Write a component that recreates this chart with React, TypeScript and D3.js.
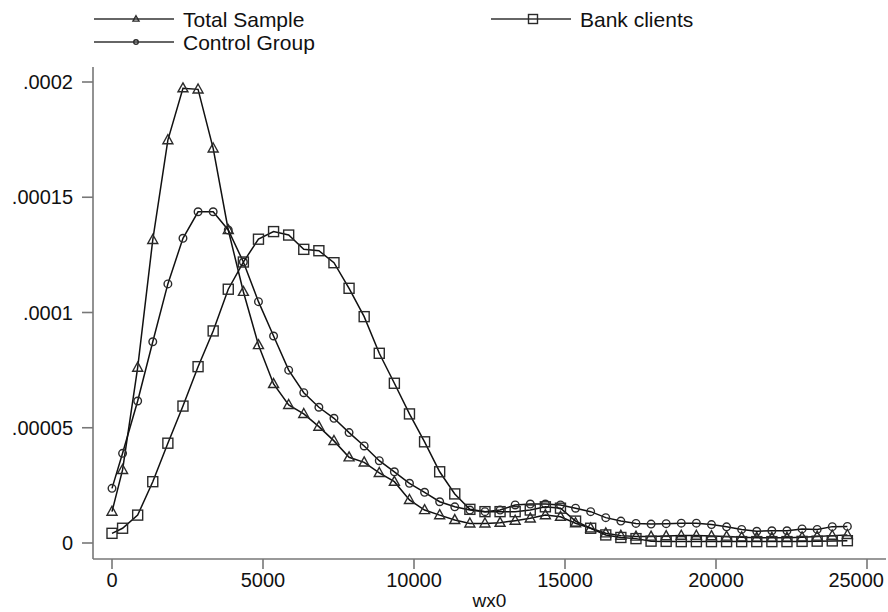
import { useEffect, useRef } from 'react';
import React from 'react';
import * as d3 from 'd3';

// evaluation points of the kernel density (wx0)
const wx0 = [
  0, 350, 850, 1350, 1850, 2350, 2850, 3350, 3850, 4350,
  4850, 5350, 5850, 6350, 6850, 7350, 7850, 8350, 8850, 9350,
  9850, 10350, 10850, 11350, 11850, 12350, 12850, 13350, 13850, 14350,
  14850, 15350, 15850, 16350, 16850, 17350, 17850, 18350, 18850, 19350,
  19850, 20350, 20850, 21350, 21850, 22350, 22850, 23350, 23850, 24350,
];

// densities, in units of 1e-6
const totalSample = [
  13.6, 31.7, 76.1, 131.5, 174.8, 197.3, 196.8, 171.2, 135.8, 109.0,
  85.9, 69.0, 59.9, 56.0, 50.5, 44.3, 37.2, 35.0, 30.4, 26.6,
  18.7, 14.3, 12.1, 10.0, 8.5, 8.5, 8.8, 9.7, 10.7, 12.1,
  11.4, 8.6, 6.4, 4.2, 3.2, 2.8, 2.8, 3.0, 3.2, 3.2,
  3.0, 2.8, 2.5, 2.3, 2.3, 2.3, 2.5, 2.8, 3.2, 3.5,
];
const controlGroup = [
  23.7, 38.9, 61.6, 87.3, 112.4, 132.2, 143.7, 143.7, 135.8, 121.9,
  104.7, 89.8, 75.0, 65.2, 58.9, 54.1, 47.9, 42.1, 35.7, 30.9,
  25.9, 22.0, 17.9, 15.7, 14.3, 13.6, 14.3, 16.5, 16.9, 16.9,
  16.5, 15.1, 13.6, 11.0, 9.5, 8.5, 8.2, 8.4, 8.6, 8.6,
  8.0, 7.0, 5.9, 5.1, 5.3, 5.3, 6.1, 5.9, 7.1, 7.2,
];
const bankClients = [
  4.2, 6.4, 12.1, 26.6, 43.3, 59.4, 76.5, 92.0, 110.1, 121.9,
  131.8, 135.1, 133.6, 127.4, 126.8, 121.6, 110.5, 98.2, 82.3, 69.3,
  56.0, 43.9, 30.9, 21.3, 14.6, 13.6, 13.6, 13.6, 14.3, 15.7,
  15.1, 9.5, 6.4, 3.5, 2.4, 1.9, 0.8, 0.7, 0.6, 0.6,
  0.6, 0.6, 0.6, 0.6, 0.6, 0.6, 0.7, 0.8, 0.9, 1.0,
];

const xTicks = [0, 5000, 10000, 15000, 20000, 25000];
const yTicks = [0, 0.00005, 0.0001, 0.00015, 0.0002];
const yTickLabels = ['0', '.00005', '.0001', '.00015', '.0002'];

const series = [
  { name: 'Total Sample', values: totalSample, marker: 'triangle' },
  { name: 'Control Group', values: controlGroup, marker: 'circle' },
  { name: 'Bank clients', values: bankClients, marker: 'square' },
];

const width = 888;
const height = 612;
const font = 'Liberation Sans, Arial, sans-serif';

function drawMarker(g, type, cx, cy, s) {
  if (type === 'triangle') {
    const h = s * 0.9;
    g.append('path')
      .attr('d', `M${cx},${cy - h * 0.6}L${cx + s / 2},${cy + h * 0.4}L${cx - s / 2},${cy + h * 0.4}Z`)
      .attr('fill', 'none').attr('stroke', '#2a2a2a').attr('stroke-width', 1.4);
  } else if (type === 'circle') {
    g.append('circle')
      .attr('cx', cx).attr('cy', cy).attr('r', s * 0.38)
      .attr('fill', 'none').attr('stroke', '#2a2a2a').attr('stroke-width', 1.4);
  } else {
    g.append('rect')
      .attr('x', cx - s / 2).attr('y', cy - s / 2).attr('width', s).attr('height', s)
      .attr('fill', 'none').attr('stroke', '#2a2a2a').attr('stroke-width', 1.4);
  }
}

function DensityChart() {
  const ref = useRef(null);

  useEffect(() => {
    const svg = d3.select(ref.current);
    svg.selectAll('*').remove();

    const x = d3.scaleLinear().domain([0, 25000]).range([112, 867]);
    const y = d3.scaleLinear().domain([0, 0.0002]).range([543, 82]);
    const axisX = 93;
    const axisY = 559;

    // axes (Stata style, offset from the plot region)
    svg.append('line')
      .attr('x1', axisX).attr('x2', axisX).attr('y1', 67).attr('y2', axisY)
      .attr('stroke', '#777').attr('stroke-width', 1.6);
    svg.append('line')
      .attr('x1', axisX).attr('x2', 886).attr('y1', axisY).attr('y2', axisY)
      .attr('stroke', '#777').attr('stroke-width', 1.6);

    yTicks.forEach((t, i) => {
      svg.append('line')
        .attr('x1', axisX - 11).attr('x2', axisX).attr('y1', y(t)).attr('y2', y(t))
        .attr('stroke', '#777').attr('stroke-width', 1.6);
      svg.append('text')
        .attr('x', axisX - 20).attr('y', y(t))
        .attr('text-anchor', 'end').attr('dominant-baseline', 'central')
        .style('font-family', font).style('font-size', '20px').attr('fill', '#111')
        .text(yTickLabels[i]);
    });

    xTicks.forEach((t, i) => {
      const last = i === xTicks.length - 1;
      svg.append('line')
        .attr('x1', x(t)).attr('x2', x(t)).attr('y1', axisY).attr('y2', axisY + 10)
        .attr('stroke', '#777').attr('stroke-width', 1.6);
      // the last label is pulled in so it stays inside the picture
      svg.append('text')
        .attr('x', last ? 884 : x(t)).attr('y', 587)
        .attr('text-anchor', last ? 'end' : 'middle')
        .style('font-family', font).style('font-size', '20px').attr('fill', '#111')
        .text(t);
    });

    svg.append('text')
      .attr('x', (x(0) + x(25000)) / 2).attr('y', 607)
      .attr('text-anchor', 'middle')
      .style('font-family', font).style('font-size', '19px').attr('fill', '#111')
      .text('wx0');

    const line = d3.line()
      .x((d, i) => x(wx0[i]))
      .y(d => y(d * 1e-6));

    series.forEach(s => {
      const g = svg.append('g');
      g.append('path')
        .datum(s.values)
        .attr('d', line)
        .attr('fill', 'none')
        .attr('stroke', '#111')
        .attr('stroke-width', 1.5);
      s.values.forEach((v, i) => drawMarker(g, s.marker, x(wx0[i]), y(v * 1e-6), 10));
    });

    // legend
    const legendItems = [
      { s: series[0], lx: 94, ly: 19 },
      { s: series[1], lx: 94, ly: 42 },
      { s: series[2], lx: 491, ly: 19 },
    ];
    legendItems.forEach(({ s, lx, ly }) => {
      svg.append('line')
        .attr('x1', lx).attr('x2', lx + 80).attr('y1', ly).attr('y2', ly)
        .attr('stroke', '#333').attr('stroke-width', 1.6);
      drawMarker(svg, s.marker, lx + 42, ly, s.marker === 'square' ? 9 : 6);
      svg.append('text')
        .attr('x', lx + 89).attr('y', ly)
        .attr('dominant-baseline', 'central')
        .style('font-family', font).style('font-size', '21px').attr('fill', '#111')
        .text(s.name);
    });
  }, []);

  return (
    <svg ref={ref} width={width} height={height}
      style={{ position: 'absolute', left: 0, top: 0, background: '#fff' }} />
  );
}

export default function App() {
  return <DensityChart />;
}
